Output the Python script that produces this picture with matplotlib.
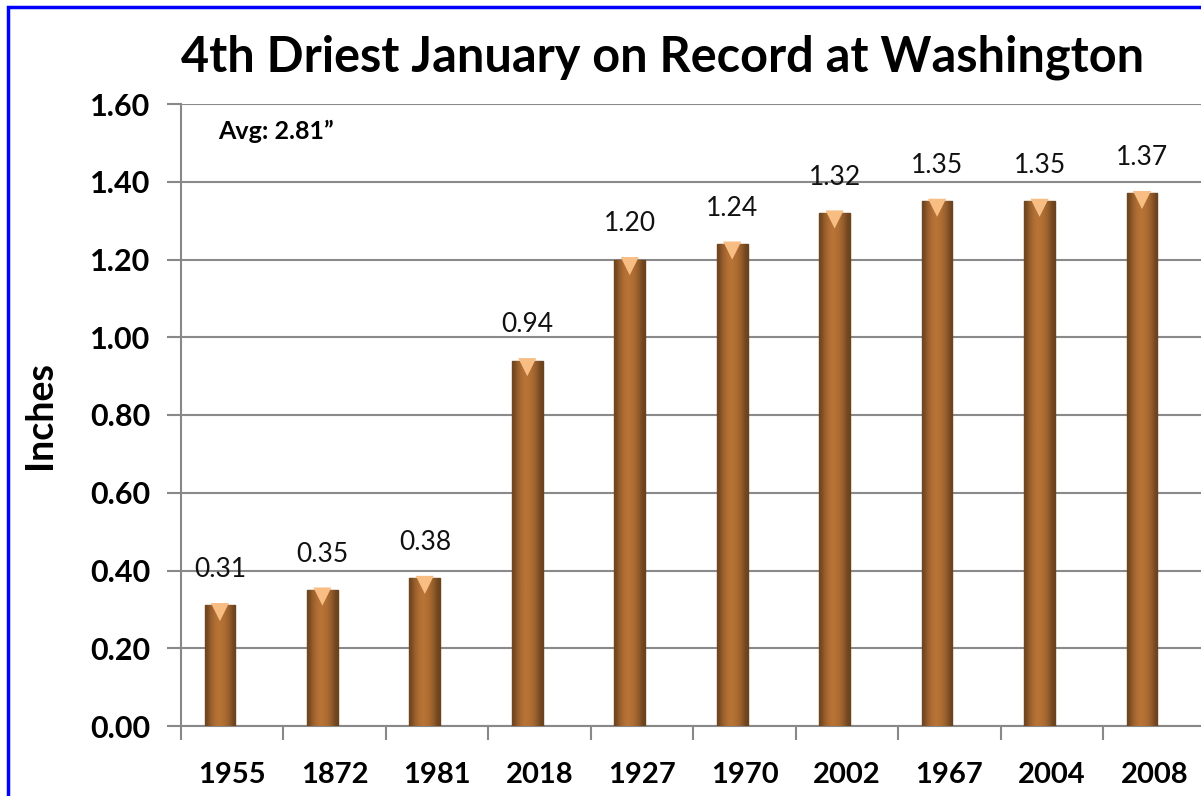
import numpy as np
import matplotlib
matplotlib.use("Agg")
import matplotlib.pyplot as plt
from matplotlib.patches import Rectangle

years = ["1955", "1872", "1981", "2018", "1927", "1970", "2002", "1967", "2004", "2008"]
rain = [0.31, 0.35, 0.38, 0.94, 1.20, 1.24, 1.32, 1.35, 1.35, 1.37]
yticks = [0.0, 0.2, 0.4, 0.6, 0.8, 1.0, 1.2, 1.4, 1.6]

plt.rcParams["font.family"] = ["Lato", "DejaVu Sans"]

fig = plt.figure(figsize=(12.01, 7.96), dpi=100)
ax = fig.add_axes([181 / 1201, 70 / 796, 1024.5 / 1201, 622 / 796])

x = np.arange(len(years))
shift = -0.12
bars = ax.bar(x + shift, rain, width=0.30, color="#a0602b", edgecolor="#6e4219",
              linewidth=1.0, zorder=3)

# shaded cylinder look: horizontal gradient clipped to each bar
shade = np.array([0.6, 0.8, 0.92, 1.0, 1.0, 0.96, 0.88, 0.75, 0.58])
base = np.array([0.72, 0.45, 0.21])
grad = np.clip(shade[None, :, None] * base[None, None, :], 0, 1)
for b in bars:
    bx, by = b.get_x(), b.get_y()
    im = ax.imshow(grad, extent=[bx, bx + b.get_width(), by, by + b.get_height()],
                   aspect="auto", zorder=3.5, interpolation="bicubic")
    im.set_clip_path(b)

# light cap on top of each bar
ax.scatter(x + shift, np.array(rain) - 0.017, marker="v", s=170,
           color="#f7bd82", edgecolor="none", zorder=4)

for xi, v in zip(x, rain):
    ax.text(xi + shift, v + 0.06, f"{v:.2f}", ha="center", va="bottom",
            fontsize=19, color="#111111")

ax.set_xlim(-0.5, len(years) - 0.5)
ax.set_ylim(0, 1.6)
ax.set_yticks(yticks)
ax.set_yticklabels([f"{t:.2f}" for t in yticks], fontsize=22, fontweight="bold")
ax.set_xticks(x)
ax.set_xticklabels(years, fontsize=21, fontweight="bold")
ax.set_xticks(list(np.arange(len(years)) + 0.5) + [-0.5], minor=True)
ax.tick_params(axis="x", which="major", length=0, pad=26)
ax.tick_params(axis="x", which="minor", length=10, width=1.5, color="#888888")
ax.tick_params(axis="y", length=10, width=1.5, color="#888888", pad=12)

ax.grid(axis="y", color="#8a8a8a", linewidth=1.5, zorder=0)
ax.set_axisbelow(True)
for s in ["top", "right"]:
    ax.spines[s].set_visible(False)
for s in ["left", "bottom"]:
    ax.spines[s].set_color("#888888")
    ax.spines[s].set_linewidth(1.5)

ax.set_ylabel("Inches", fontsize=27, fontweight="bold", labelpad=24)
ax.text(0.36 - 0.5, 1.53, "Avg: 2.81\u201d", fontsize=18, fontweight="bold",
        va="center", ha="left")

fig.text(663 / 1201, 1 - 57 / 796, "4th Driest January on Record at Washington",
         ha="center", va="center", fontsize=35, fontweight="bold")

fig.patches.append(Rectangle((8 / 1201, -0.05), 1.1, 1 - 7 / 796 + 0.05,
                             transform=fig.transFigure, fill=False,
                             edgecolor="#0000ff", linewidth=2.5))

fig.savefig("out.png", dpi=100)
